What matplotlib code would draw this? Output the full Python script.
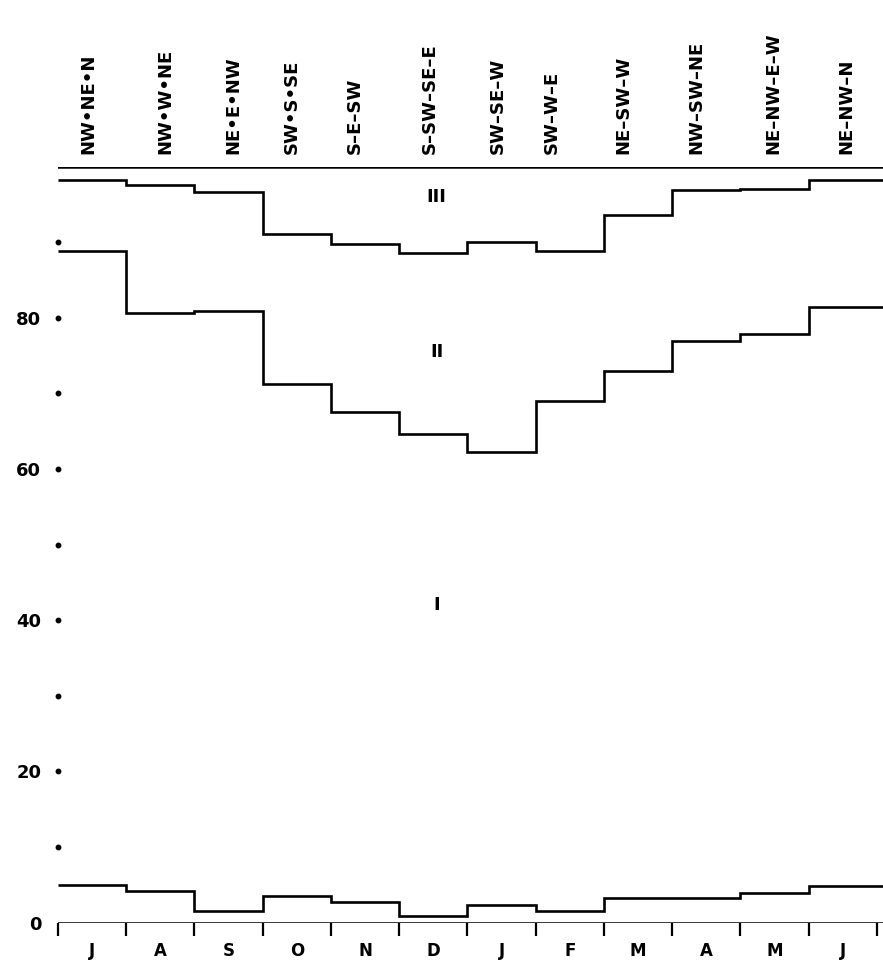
import matplotlib
matplotlib.use("Agg")
import matplotlib.pyplot as plt
import numpy as np

# ---- data ----
months = ['J', 'A', 'S', 'O', 'N', 'D', 'J', 'F', 'M', 'A', 'M', 'J']
wind_labels = ['NW•NE•N', 'NW•W•NE', 'NE•E•NW', 'SW•S•SE', 'S–E–SW', 'S–SW–SE–E',
               'SW–SE–W', 'SW–W–E', 'NE–SW–W', 'NW–SW–NE', 'NE–NW–E–W', 'NE–NW–N']
bottom_line = [5.0, 4.2, 1.5, 3.5, 2.7, 0.9, 2.3, 1.5, 3.3, 3.3, 3.9, 4.8]
line_II = [88.9, 80.6, 80.9, 71.2, 67.6, 64.6, 62.2, 69.0, 73.0, 76.9, 77.9, 81.4]
line_III = [98.2, 97.5, 96.6, 91.1, 89.7, 88.6, 90.0, 88.9, 93.6, 96.9, 97.0, 98.2]
ytick_vals = [0, 20, 40, 60, 80]
ydot_vals = [10, 20, 30, 40, 50, 60, 70, 80, 90]
zone_labels = ['I', 'II', 'III']
zone_label_y = [42, 75.5, 96]

# ---- layout ----
label_x_offsets = [-0.05, 0.08, 0.07, -0.07, -0.15, -0.05, -0.05, -0.26, -0.22, -0.14, -0.02, 0.06]
XMAX = 12.09

fig = plt.figure(figsize=(8.83, 9.68), dpi=100)
ax = fig.add_axes([0.0657, 0.0469, 1.0 - 0.0657, 0.781])
ax.set_xlim(0, XMAX)
ax.set_ylim(0, 100)
for s in ax.spines.values():
    s.set_visible(False)

n = len(months)
edges = list(range(n)) + [XMAX]
lw = 1.9
for vals in (bottom_line, line_II, line_III):
    ax.stairs(vals, edges, color='black', lw=lw, baseline=None)

# bottom axis and top line
ax.axhline(0, color='black', lw=1.8)
ax.axhline(100, color='black', lw=1.8)

# ticks
ax.set_xticks(range(n + 1))
ax.set_xticklabels([''] * (n + 1))
ax.tick_params(axis='x', which='major', direction='out', length=9, width=1.6, color='black')
ax.set_xticks(np.arange(n) + 0.5, minor=True)
ax.set_xticklabels(months, minor=True, fontsize=12, fontweight='bold')
ax.tick_params(axis='x', which='minor', length=0, pad=14)

ax.set_yticks(ytick_vals)
ax.set_yticklabels([str(v) for v in ytick_vals], fontsize=13, fontweight='bold')
ax.tick_params(axis='y', length=0, pad=12)

ax.plot([0] * len(ydot_vals), ydot_vals, 'o', color='black', ms=3.2, clip_on=False)

# wind labels on top
for i, lab in enumerate(wind_labels):
    ax.text(i + 0.5 + label_x_offsets[i], 101.6, lab, rotation=90, ha='center', va='bottom',
            fontsize=13, fontweight='bold', clip_on=False)

# zone labels
for lab, yv in zip(zone_labels, zone_label_y):
    ax.text(5.55, yv, lab, ha='center', va='center', fontsize=13, fontweight='bold')

fig.savefig('out.png', dpi=100)
